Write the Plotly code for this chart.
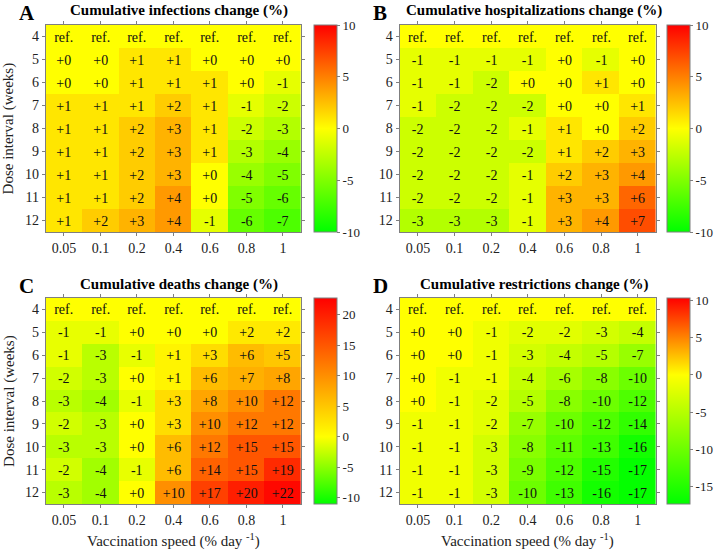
import plotly.graph_objects as go

W, H = 714, 552
ML, MR, MT, MB = 0, 40, 0, 0

speeds = ["0.05", "0.1", "0.2", "0.4", "0.6", "0.8", "1"]
intervals = ["4", "5", "6", "7", "8", "9", "10", "11", "12"]

infections = [
    [0, 0, 0, 0, 0, 0, 0],
    [0, 0, 1, 1, 0, 0, 0],
    [0, 0, 1, 1, 1, 0, -1],
    [1, 1, 1, 2, 1, -1, -2],
    [1, 1, 2, 3, 1, -2, -3],
    [1, 1, 2, 3, 1, -3, -4],
    [1, 1, 2, 3, 0, -4, -5],
    [1, 1, 2, 4, 0, -5, -6],
    [1, 2, 3, 4, -1, -6, -7],
]
hospitalizations = [
    [0, 0, 0, 0, 0, 0, 0],
    [-1, -1, -1, -1, 0, -1, 0],
    [-1, -1, -2, 0, 0, 1, 0],
    [-1, -2, -2, -2, 0, 0, 1],
    [-2, -2, -2, -1, 1, 0, 2],
    [-2, -2, -2, -2, 1, 2, 3],
    [-2, -2, -2, -1, 2, 3, 4],
    [-2, -2, -2, -1, 3, 3, 6],
    [-3, -3, -3, -1, 3, 4, 7],
]
deaths = [
    [0, 0, 0, 0, 0, 0, 0],
    [-1, -1, 0, 0, 0, 2, 2],
    [-1, -3, -1, 1, 3, 6, 5],
    [-2, -3, 0, 1, 6, 7, 8],
    [-3, -4, -1, 3, 8, 10, 12],
    [-2, -3, 0, 3, 10, 12, 12],
    [-3, -3, 0, 6, 12, 15, 15],
    [-2, -4, -1, 6, 14, 15, 19],
    [-3, -4, 0, 10, 17, 20, 22],
]
restrictions = [
    [0, 0, 0, 0, 0, 0, 0],
    [0, 0, -1, -2, -2, -3, -4],
    [0, 0, -1, -3, -4, -5, -7],
    [0, -1, -1, -4, -6, -8, -10],
    [0, -1, -2, -5, -8, -10, -12],
    [-1, -1, -2, -7, -10, -12, -14],
    [-1, -1, -3, -8, -11, -13, -16],
    [-1, -1, -3, -9, -12, -15, -17],
    [-1, -1, -3, -10, -13, -16, -17],
]

titles = ["Cumulative infections change (%)", "Cumulative hospitalizations change (%)",
          "Cumulative deaths change (%)", "Cumulative restrictions change (%)"]
letters = ["A", "B", "C", "D"]
ranges = [(-10, 10), (-10, 10), (-11, 22.7), (-17.3, 10.3)]
cticks = [[-10, -5, 0, 5, 10], [-10, -5, 0, 5, 10],
          [-10, -5, 0, 5, 10, 15, 20], [-15, -10, -5, 0, 5, 10]]
datasets = [infections, hospitalizations, deaths, restrictions]

FONT = "Liberation Serif"
GRAY = "#7f7f7f"

# pixel geometry of the panels: (x0, x1, y0, y1)
panels = [(46, 303, 25, 232), (402, 660, 25, 232), (46, 303, 298, 504), (402, 660, 298, 504)]
cbar_x = [316, 671, 316, 671]

PW = W - ML - MR
PH = H - MT - MB


def px_x(p):
    return (p - ML) / PW


def px_y(p):
    return 1 - (p - MT) / PH


def label(v, row):
    if row == 0:
        return "ref."
    return ("+%d" % v) if v >= 0 else ("%d" % v)


fig = go.Figure()
layout = dict(width=W, height=H, margin=dict(l=ML, r=MR, t=MT, b=MB, pad=0),
              paper_bgcolor="white", plot_bgcolor="white",
              font=dict(family=FONT, size=14, color="black"), annotations=[])

for i in range(4):
    data = datasets[i]
    zmin, zmax = ranges[i]
    f0 = (0 - zmin) / (zmax - zmin)
    cs = [[0, "rgb(0,255,0)"], [f0, "rgb(255,255,0)"], [1, "rgb(255,0,0)"]]
    text = [[label(v, r) for v in row] for r, row in enumerate(data)]
    x0, x1, y0, y1 = panels[i]
    sfx = "" if i == 0 else str(i + 1)
    fig.add_trace(go.Heatmap(
        z=data, x=speeds, y=intervals, text=text, texttemplate="%{text}",
        textfont=dict(family=FONT, size=14, color="#111"),
        colorscale=cs, zmin=zmin, zmax=zmax,
        xaxis="x" + sfx, yaxis="y" + sfx, hoverinfo="skip",
        colorbar=dict(x=px_x(cbar_x[i]), xanchor="left", xpad=0, ypad=0,
                      y=(px_y(y0) + px_y(y1)) / 2, yanchor="middle",
                      len=(y1 - y0) / PH, lenmode="fraction",
                      thickness=23, thicknessmode="pixels",
                      outlinewidth=1, outlinecolor=GRAY,
                      tickvals=cticks[i], ticktext=[str(t) for t in cticks[i]],
                      ticks="outside", ticklen=3, tickcolor=GRAY,
                      tickfont=dict(family=FONT, size=13, color="#222"))
    ))
    layout["xaxis" + sfx] = dict(domain=[px_x(x0), px_x(x1)], anchor="y" + sfx,
                                 type="category", showline=True, linecolor=GRAY, linewidth=1,
                                 mirror="ticks", ticks="outside", ticklen=3, tickcolor=GRAY,
                                 showgrid=False, zeroline=False, automargin=False,
                                 tickfont=dict(family=FONT, size=14, color="#222"))
    layout["yaxis" + sfx] = dict(domain=[px_y(y1), px_y(y0)], anchor="x" + sfx,
                                 type="category", autorange="reversed",
                                 showline=True, linecolor=GRAY, linewidth=1,
                                 mirror="ticks", ticks="outside", ticklen=3, tickcolor=GRAY,
                                 showgrid=False, zeroline=False, automargin=False,
                                 tickfont=dict(family=FONT, size=14, color="#222"))
    tx = (x0 + x1) / 2 + 6
    layout["annotations"].append(dict(text="<b>%s</b>" % titles[i], x=px_x(tx), y=px_y(y0 - 14),
                                      xref="paper", yref="paper", showarrow=False,
                                      xanchor="center", yanchor="middle",
                                      font=dict(family=FONT, size=15, color="black")))
    layout["annotations"].append(dict(text="<b>%s</b>" % letters[i], x=px_x(x0 - 29), y=px_y(y0 - 12),
                                      xref="paper", yref="paper", showarrow=False,
                                      xanchor="left", yanchor="middle",
                                      font=dict(family=FONT, size=21, color="black")))

for (x0, x1, y0, y1) in [panels[0], panels[2]]:
    layout["annotations"].append(dict(text="Dose interval (weeks)", x=px_x(9), y=px_y((y0 + y1) / 2),
                                      xref="paper", yref="paper", showarrow=False, textangle=-90,
                                      xanchor="center", yanchor="middle",
                                      font=dict(family=FONT, size=15, color="#222")))
for (x0, x1, y0, y1) in [panels[2], panels[3]]:
    layout["annotations"].append(dict(text="Vaccination speed (% day <sup>-1</sup>)",
                                      x=px_x((x0 + x1) / 2), y=px_y(552),
                                      xref="paper", yref="paper", showarrow=False,
                                      xanchor="center", yanchor="bottom",
                                      font=dict(family=FONT, size=15, color="#222")))

fig.update_layout(**layout)
fig.write_html("out.html", config={"displayModeBar": False},
               post_script="document.body.style.margin='0';document.body.style.overflow='hidden';")
